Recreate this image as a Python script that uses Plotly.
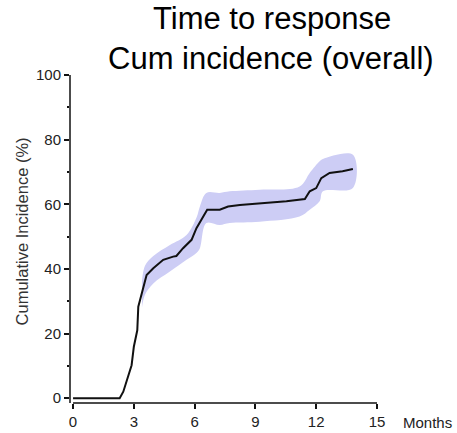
import plotly.graph_objects as go

# Cumulative incidence curve (months, %)
months = [0, 2.3, 2.48, 2.89, 3.0, 3.17, 3.22, 3.38, 3.55, 3.63, 3.96, 4.45, 4.94, 5.1,
          5.43, 5.68, 5.85, 6.09, 6.34, 6.62, 7.24, 7.65, 8.23, 9.21, 10.53, 11.44,
          11.68, 12.0, 12.25, 12.66, 13.3, 13.81]
incidence = [0, 0, 2.0, 10.2, 15.9, 21, 28.3, 32, 36.6, 38.1, 40.2, 42.8, 43.8, 44,
             46.4, 48, 49, 52.6, 55.2, 58.3, 58.3, 59.3, 59.8, 60.3, 60.9, 61.6,
             64, 65, 68.1, 69.7, 70.2, 70.9]

# Confidence band
band_months = [3.4, 3.55, 3.96, 4.78, 5.6, 6.1, 6.26, 6.58, 7.24, 7.73, 9.21, 11.18,
               11.68, 12.17, 12.33, 13.81]
band_upper = [36, 41, 44, 47.4, 50.5, 56, 59.3, 63.5, 63.5, 64, 64.5, 65.5,
              69.7, 73.3, 74, 75.3]
band_lower = [28, 32, 35.5, 39.2, 42.8, 45, 46.4, 54.2, 53.6, 54.2, 54.6, 56.2,
              58.3, 60.9, 64, 65]

x_ticks = [0, 3, 6, 9, 12, 15]
y_ticks = [0, 20, 40, 60, 80, 100]

FONT = "Liberation Sans, Arial, sans-serif"

fig = go.Figure()
fig.add_trace(go.Scatter(
    x=band_months + band_months[::-1],
    y=band_upper + band_lower[::-1],
    fill="toself", fillcolor="#cdcdf5", line=dict(width=0, shape="spline"),
    mode="lines", hoverinfo="skip", showlegend=False))
fig.add_trace(go.Scatter(
    x=months, y=incidence, mode="lines",
    line=dict(color="#111111", width=2), showlegend=False))

fig.update_layout(
    width=457, height=433,
    margin=dict(l=70, r=80, t=75, b=30),
    paper_bgcolor="white", plot_bgcolor="white",
    font=dict(family=FONT, color="#222222"),
    xaxis=dict(range=[-0.15, 15], tickvals=x_ticks, ticktext=[str(v) for v in x_ticks],
               ticks="outside", ticklen=5, tickwidth=1.5, tickcolor="#111",
               showline=False, showgrid=False, zeroline=False, automargin=False,
               tickfont=dict(size=15, family=FONT, color="#222")),
    yaxis=dict(range=[-1.5, 100], tickvals=y_ticks, ticktext=[str(v) for v in y_ticks],
               ticks="outside", ticklen=5, tickwidth=1.5, tickcolor="#111",
               minor=dict(dtick=10, tick0=0, ticks="outside", ticklen=2, tickcolor="#111",
                          showgrid=False),
               showline=False, showgrid=False, zeroline=False, automargin=False,
               tickfont=dict(size=15, family=FONT, color="#222")),
    shapes=[
        dict(type="line", xref="x", yref="paper", x0=0, x1=15, y0=0, y1=0,
             line=dict(color="#111", width=1.5)),
        dict(type="line", xref="paper", yref="y", x0=0, x1=0, y0=-1.5, y1=100,
             line=dict(color="#111", width=1.5)),
    ],
    annotations=[
        dict(text="Time to response", xref="paper", yref="paper", x=0.658, y=1.1723,
             xanchor="center", yanchor="middle", showarrow=False,
             font=dict(size=31, family=FONT, color="#000")),
        dict(text="Cum incidence (overall)", xref="paper", yref="paper", x=0.6547, y=1.0503,
             xanchor="center", yanchor="middle", showarrow=False,
             font=dict(size=31, family=FONT, color="#000")),
        dict(text="Cumulative Incidence (%)", xref="paper", yref="paper", x=-0.1564, y=0.523,
             textangle=-90, xanchor="center", yanchor="middle", showarrow=False,
             font=dict(size=16.5, family=FONT, color="#333")),
        dict(text="Months", xref="paper", yref="paper", x=1.166, y=-0.058,
             xanchor="center", yanchor="middle", showarrow=False,
             font=dict(size=15, family=FONT, color="#222")),
    ],
)

fig.write_html("out.html", config={"displayModeBar": False},
               post_script="document.body.style.margin='0';document.body.style.overflow='hidden';")
